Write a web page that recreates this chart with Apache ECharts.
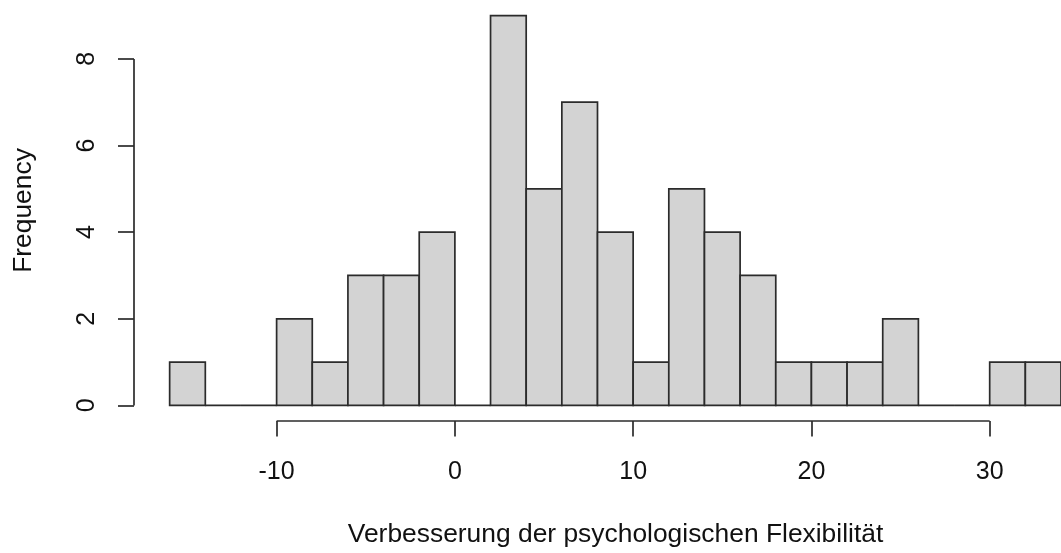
<!DOCTYPE html>
<html>
<head>
<meta charset="utf-8">
<script src="https://cdn.jsdelivr.net/npm/echarts@6/dist/echarts.min.js"></script>
<style>
  html, body { margin: 0; padding: 0; background: #fff; }
  #chart { width: 1061px; height: 553px; }
</style>
</head>
<body>
<div id="chart"></div>
<script>
// Histogram bin breaks (width 2) and the counts in each bin
const binEdges = [-16, -14, -12, -10, -8, -6, -4, -2, 0, 2, 4, 6, 8, 10, 12, 14, 16, 18, 20, 22, 24, 26, 28, 30, 32, 34];
const counts   = [1, 0, 0, 2, 1, 3, 3, 4, 0, 9, 5, 7, 4, 1, 5, 4, 3, 1, 1, 1, 2, 0, 0, 1, 1];

// Axis tick labels
const xTicks = [-10, 0, 10, 20, 30];
const yTicks = [0, 2, 4, 6, 8];

// Visible plot ranges (left/bottom padded by 4%; right side ends at the last break)
const xRange = [-18, 34];
const yRange = [-0.36, 9.36];

const xTitle = 'Verbesserung der psychologischen Flexibilität';
const yTitle = 'Frequency';

const FONT = '"Liberation Sans", Arial, Helvetica, sans-serif';
const INK = '#2b2b2b';
const LW = 1.7;

const bins = counts.map((c, i) => [binEdges[i], binEdges[i + 1], c]);

const chart = echarts.init(document.getElementById('chart'), null, { renderer: 'canvas' });

chart.setOption({
  animation: false,
  backgroundColor: '#fff',
  grid: { left: 134, right: 0, top: -1.6, height: 424, containLabel: false },
  xAxis: {
    type: 'value',
    min: xRange[0], max: xRange[1],
    splitLine: { show: false },
    axisLine: { show: false, onZero: false },
    axisTick: { show: true, customValues: xTicks, length: 15.5, inside: false,
                lineStyle: { color: INK, width: LW } },
    axisLabel: { show: true, customValues: xTicks, margin: 39,
                 color: '#111', fontFamily: FONT, fontSize: 25 },
    name: xTitle,
    nameLocation: 'middle',
    nameGap: 101,
    // shifts the title's centre to the middle of the full padded range
    nameTextStyle: { color: '#111', fontFamily: FONT, fontSize: 26.4, padding: [0, 0, 0, 36] }
  },
  yAxis: {
    type: 'value',
    min: yRange[0], max: yRange[1],
    splitLine: { show: false },
    axisLine: { show: false, onZero: false },
    axisTick: { show: true, customValues: yTicks, length: 16, inside: false,
                lineStyle: { color: INK, width: LW } },
    axisLabel: { show: true, customValues: yTicks, rotate: 90, margin: 34,
                 color: '#111', fontFamily: FONT, fontSize: 25 },
    name: yTitle,
    nameLocation: 'middle',
    nameRotate: 90,
    nameGap: 97,
    nameTextStyle: { color: '#111', fontFamily: FONT, fontSize: 26.4 }
  },
  series: [
    {
      type: 'custom',
      data: bins,
      encode: { x: [0, 1], y: 2 },
      clip: false,
      renderItem: function (params, api) {
        const top = api.coord([api.value(0), api.value(2)]);
        const base = api.coord([api.value(1), 0]);
        return {
          type: 'rect',
          shape: { x: top[0], y: top[1], width: base[0] - top[0], height: base[1] - top[1] },
          style: { fill: '#D3D3D3', stroke: INK, lineWidth: LW }
        };
      }
    },
    // x axis line spanning the labelled ticks only
    {
      type: 'line',
      data: [[xTicks[0], yRange[0]], [xTicks[xTicks.length - 1], yRange[0]]],
      symbol: 'none', clip: false, silent: true,
      lineStyle: { color: INK, width: LW }
    },
    // y axis line spanning the labelled ticks only
    {
      type: 'line',
      data: [[xRange[0], yTicks[0]], [xRange[0], yTicks[yTicks.length - 1]]],
      symbol: 'none', clip: false, silent: true,
      lineStyle: { color: INK, width: LW }
    }
  ]
});
</script>
</body>
</html>
